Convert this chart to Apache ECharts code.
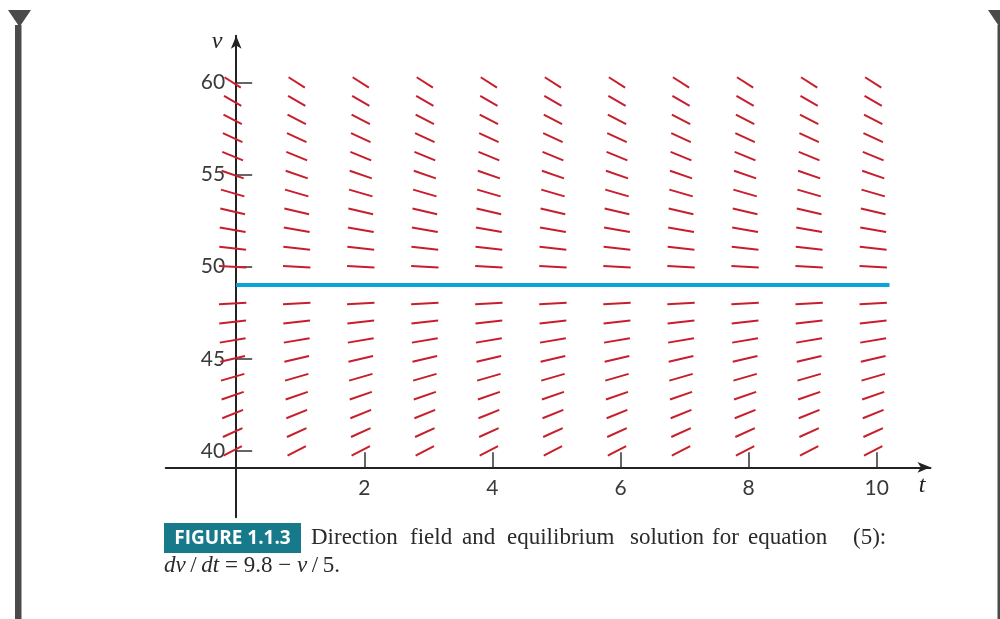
<!DOCTYPE html>
<html>
<head>
<meta charset="utf-8">
<script src="https://cdn.jsdelivr.net/npm/echarts@6/dist/echarts.min.js"></script>
<style>
  html, body { margin: 0; padding: 0; background: #fff; }
  #main { width: 1000px; height: 619px; }
</style>
</head>
<body>
<div id="main"></div>
<script>
// direction field grid: columns in t, rows in v (v = 49 is the equilibrium line)
const tColumns = [0, 1, 2, 3, 4, 5, 6, 7, 8, 9, 10];
const vRows = [40, 41, 42, 43, 44, 45, 46, 47, 48, 50, 51, 52, 53, 54, 55, 56, 57, 58, 59, 60];
// slope dv/dt of each row, from dv/dt = 9.8 - v/5
const rowSlopes = [1.8, 1.6, 1.4, 1.2, 1.0, 0.8, 0.6, 0.4, 0.2, -0.2, -0.4, -0.6, -0.8, -1.0, -1.2, -1.4, -1.6, -1.8, -2.0, -2.2];
// equilibrium solution v = 49
const equilibrium = [[0, 49], [10.2, 49]];
// tick labels
const tTicks = [2, 4, 6, 8, 10];
const vTicks = [40, 45, 50, 55, 60];

const chart = echarts.init(document.getElementById('main'));

// field data [t, v, slope]
const fieldData = [];
tColumns.forEach(t => {
    vRows.forEach((v, i) => fieldData.push([t, v, rowSlopes[i]]));
});

const tickFont = { fontFamily: 'Lato', fontWeight: 'normal', fontSize: 21, color: '#3a3a3a' };
const serif = '"Liberation Serif"';
const textColor = '#2a2a2a';

// short segment centred on each grid point
function renderSegment(params, api) {
    const t = api.value(0), v = api.value(1), s = api.value(2);
    const c = api.coord([t, v]);
    const pxT = api.size([1, 0])[0];
    const pxV = api.size([0, 1])[1];
    const sx = pxT, sy = -s * pxV;
    const norm = Math.sqrt(sx * sx + (sy * 2.17) * (sy * 2.17));
    const half = 13.8;
    const dx = sx / norm * half, dy = sy / norm * half;
    const cx = c[0] - 3.5, cy = c[1];
    return {
        type: 'line',
        shape: { x1: cx - dx, y1: cy - dy, x2: cx + dx, y2: cy + dy },
        style: { stroke: '#c81e2c', lineWidth: 2 }
    };
}

// caption words, spread out like the justified line
const captionWords = [
    ['Direction', 311], ['field', 410], ['and', 462], ['equilibrium', 507],
    ['solution', 630], ['for', 712], ['equation', 748], ['(5):', 853]
];

const graphics = [
    // page margin marks
    { type: 'polygon', shape: { points: [[8, 10], [31, 10], [19.5, 27]] }, style: { fill: '#4a4a4a' } },
    { type: 'rect', shape: { x: 15, y: 25, width: 6.5, height: 600 }, style: { fill: '#4a4a4a' } },
    { type: 'polygon', shape: { points: [[988, 10], [1011, 10], [999.5, 27]] }, style: { fill: '#4a4a4a' } },
    { type: 'rect', shape: { x: 997.5, y: 25, width: 2.5, height: 600 }, style: { fill: '#4a4a4a' } },
    // axis names
    { type: 'text', x: 217, y: 42, style: { text: 'v', font: 'italic 24px ' + serif, fill: '#222', align: 'center', verticalAlign: 'middle' } },
    { type: 'text', x: 922, y: 486, style: { text: 't', font: 'italic 24px ' + serif, fill: '#222', align: 'center', verticalAlign: 'middle' } },
    // caption label
    { type: 'rect', shape: { x: 164, y: 523, width: 137, height: 30 }, style: { fill: '#167a8a' } },
    { type: 'text', x: 232.5, y: 538.5, style: { text: 'FIGURE 1.1.3', font: 'bold 19px "Open Sans"', fill: '#fff', align: 'center', verticalAlign: 'middle' } }
];
captionWords.forEach(([w, x]) => {
    graphics.push({ type: 'text', x: x, y: 538, style: { text: w, font: '23px ' + serif, fill: textColor, verticalAlign: 'middle' } });
});
graphics.push({
    type: 'text', x: 164, y: 566,
    style: {
        text: '{i|dv}\u2009/\u2009{i|dt} = 9.8 \u2212 {i|v}\u2009/\u20095.',
        font: '23px ' + serif,
        fill: textColor,
        verticalAlign: 'middle',
        rich: { i: { fontStyle: 'italic', fontFamily: 'Liberation Serif', fontSize: 23, color: textColor } }
    }
});

chart.setOption({
    backgroundColor: '#fff',
    animation: false,
    grid: { left: 165.7, width: 764.8, top: 35.8, bottom: 101.7 },
    xAxis: {
        type: 'value',
        min: -1.1,
        max: 10.84,
        offset: -50,
        splitLine: { show: false },
        axisLine: {
            onZero: false,
            symbol: ['none', 'arrow'],
            symbolSize: [8, 13],
            lineStyle: { color: '#222', width: 2 }
        },
        axisTick: { inside: true, length: 15, customValues: tTicks, lineStyle: { color: '#333', width: 1.5 } },
        axisLabel: Object.assign({ margin: 10, customValues: tTicks }, tickFont)
    },
    yAxis: {
        type: 'value',
        min: 36.4,
        max: 62.53,
        offset: -70.5,
        splitLine: { show: false },
        axisLine: {
            onZero: false,
            symbol: ['none', 'arrow'],
            symbolSize: [8, 13],
            lineStyle: { color: '#222', width: 2 }
        },
        axisTick: { inside: true, length: 16, customValues: vTicks, lineStyle: { color: '#333', width: 1.5 } },
        axisLabel: Object.assign({ margin: 11, customValues: vTicks }, tickFont)
    },
    series: [
        {
            type: 'custom',
            renderItem: renderSegment,
            data: fieldData,
            z: 3
        },
        {
            type: 'line',
            data: equilibrium,
            showSymbol: false,
            lineStyle: { color: '#0ba3dc', width: 4 },
            z: 4
        }
    ],
    graphic: graphics
});
</script>
</body>
</html>
